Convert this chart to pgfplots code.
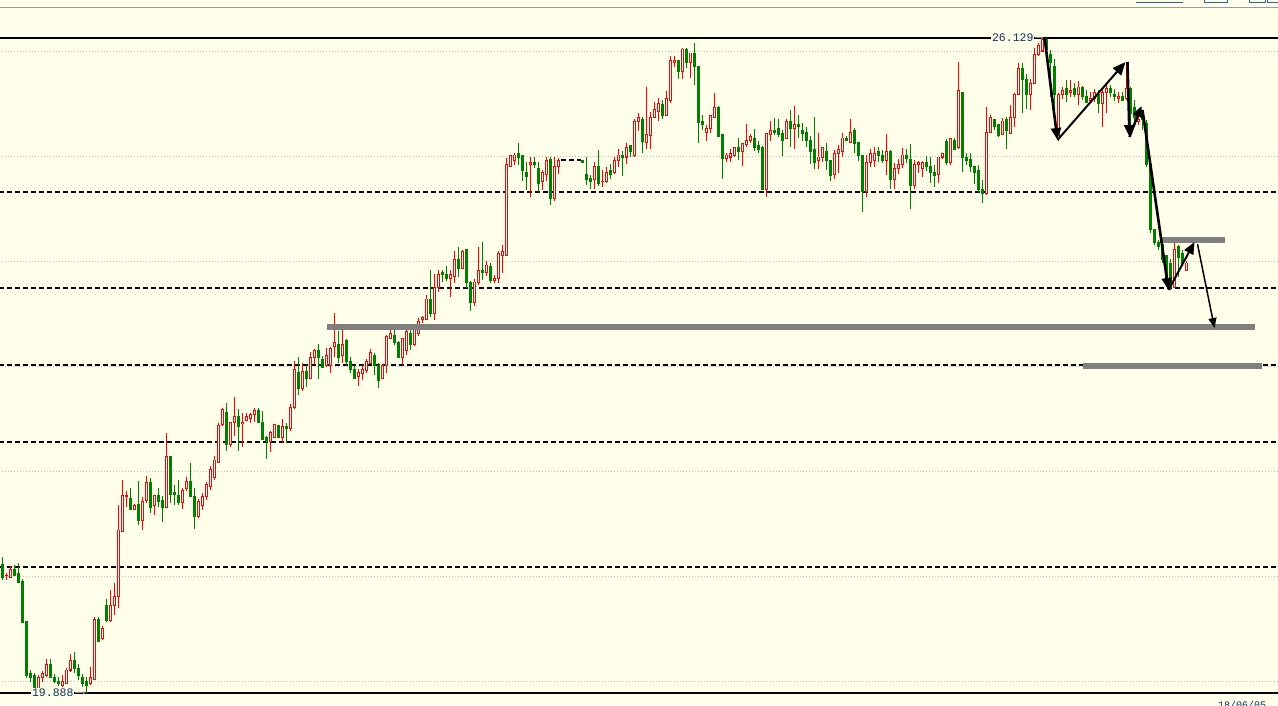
\documentclass[border=0pt]{standalone}
\usepackage{pgfplots}
\usepackage{pgfplotstable}
\pgfplotsset{compat=1.18}
\usetikzlibrary{arrows.meta}
\usepackage{fontspec}
\newfontfamily\lmono{Liberation Mono}
\definecolor{bgcol}{RGB}{255,255,234}
\definecolor{cred}{RGB}{255,0,0}
\definecolor{cgreen}{RGB}{0,128,0}
\definecolor{gridc}{RGB}{192,192,192}
\definecolor{lvl}{RGB}{128,128,128}
\definecolor{navy}{RGB}{16,48,96}
\definecolor{tbar}{RGB}{40,100,150}

% up candles: index open high low close
\pgfplotstableread{
i o h l c
1 21.003 21.031 20.965 21.012
2 20.993 21.098 20.984 21.060
9 19.907 20.059 19.898 20.040
10 20.031 20.097 19.993 20.069
11 20.050 20.212 20.040 20.155
15 19.964 20.059 19.945 20.002
16 19.983 20.126 19.974 20.107
17 20.107 20.260 20.088 20.202
22 19.974 20.136 19.964 20.031
23 20.021 20.612 20.012 20.584
25 20.403 20.527 20.393 20.498
27 20.574 20.869 20.565 20.726
28 20.726 20.936 20.631 20.812
29 20.803 21.680 20.698 21.441
30 21.431 21.918 21.431 21.765
31 21.756 21.812 21.660 21.765
33 21.641 21.689 21.641 21.670
35 21.527 21.756 21.441 21.708
36 21.718 21.956 21.699 21.889
38 21.670 21.775 21.584 21.765
41 21.660 22.366 21.660 22.137
45 21.699 21.841 21.641 21.822
46 21.832 21.946 21.812 21.899
49 21.565 21.737 21.555 21.708
50 21.670 21.794 21.632 21.756
51 21.756 21.899 21.727 21.870
52 21.851 22.051 21.822 22.013
53 21.937 22.146 21.918 22.108
54 22.080 22.461 22.080 22.432
55 22.442 22.604 22.432 22.585
57 22.251 22.470 22.232 22.461
58 22.461 22.708 22.337 22.518
60 22.451 22.556 22.232 22.461
61 22.480 22.556 22.480 22.527
62 22.499 22.556 22.461 22.537
63 22.537 22.604 22.470 22.575
67 22.280 22.385 22.184 22.366
68 22.327 22.442 22.327 22.442
70 22.327 22.499 22.270 22.423
72 22.404 22.642 22.385 22.604
73 22.604 23.051 22.594 22.966
75 22.785 23.032 22.765 22.947
77 22.880 23.137 22.880 23.089
78 23.089 23.166 23.013 23.147
81 23.004 23.175 22.994 23.108
82 23.013 23.185 22.937 23.175
83 23.185 23.508 23.089 23.223
85 23.108 23.356 23.032 23.213
89 22.899 22.975 22.813 22.937
90 22.928 23.013 22.870 22.966
91 22.956 23.070 22.937 23.051
92 23.032 23.166 23.032 23.128
95 22.880 23.023 22.880 23.013
96 23.013 23.299 22.937 23.280
97 23.270 23.347 23.261 23.309
100 23.089 23.261 23.004 23.261
101 23.156 23.366 23.108 23.328
103 23.213 23.394 23.194 23.366
104 23.309 23.461 23.290 23.423
105 23.442 23.480 23.414 23.470
106 23.451 23.680 23.442 23.642
108 23.508 23.880 23.442 23.756
109 23.756 23.918 23.709 23.871
112 23.833 23.918 23.661 23.871
113 23.852 24.099 23.795 24.023
115 23.937 24.109 23.928 24.090
118 23.604 23.833 23.575 23.804
119 23.795 24.138 23.776 23.918
121 23.899 24.004 23.861 23.966
123 23.823 23.871 23.795 23.842
124 23.833 24.099 23.795 24.080
125 24.061 24.157 23.890 24.090
126 24.061 24.986 24.061 24.919
127 24.909 25.014 24.900 25.005
128 24.957 25.033 24.919 25.014
132 24.919 24.995 24.614 24.938
135 24.766 24.871 24.681 24.843
136 24.824 24.995 24.766 24.966
138 24.595 24.995 24.576 24.909
139 24.900 24.986 24.833 24.966
148 24.776 24.947 24.690 24.909
150 24.757 24.871 24.709 24.766
151 24.766 24.900 24.747 24.852
153 24.843 24.995 24.833 24.957
154 24.957 25.071 24.900 25.014
156 24.995 25.129 24.928 25.090
158 25.014 25.357 24.995 25.329
159 25.329 25.414 25.243 25.367
161 25.129 25.662 25.071 25.214
162 25.204 25.424 25.071 25.367
163 25.376 25.519 25.367 25.452
164 25.433 25.557 25.338 25.509
166 25.395 25.624 25.395 25.548
167 25.538 25.957 25.509 25.910
168 25.891 25.957 25.853 25.910
170 25.805 26.034 25.738 26.024
172 25.900 25.986 25.748 25.986
176 25.233 25.300 25.148 25.271
177 25.262 25.395 25.223 25.386
178 25.376 25.605 25.376 25.462
181 24.976 25.033 24.947 25.014
182 24.995 25.071 24.947 25.024
183 25.014 25.090 24.995 25.081
185 25.052 25.129 24.909 25.119
186 25.110 25.309 25.090 25.148
187 25.148 25.214 25.129 25.195
191 24.681 25.223 24.614 25.223
192 25.205 25.338 25.148 25.252
196 25.167 25.357 25.167 25.329
198 25.262 25.481 25.071 25.300
204 24.957 25.223 24.881 24.995
205 24.986 25.081 24.947 25.081
208 24.824 25.062 24.786 25.033
209 25.033 25.110 24.843 25.062
210 25.052 25.223 24.995 25.176
212 25.129 25.357 25.129 25.233
216 24.671 25.014 24.614 24.947
217 24.947 25.071 24.900 25.033
218 24.966 25.090 24.900 25.033
221 24.957 25.214 24.824 25.052
223 24.776 24.938 24.690 24.890
224 24.881 24.976 24.833 24.928
225 24.919 25.081 24.890 25.014
228 24.728 24.966 24.690 24.919
229 24.919 24.957 24.843 24.947
230 24.890 24.957 24.805 24.947
234 24.824 24.995 24.747 24.995
235 24.995 25.033 24.976 25.033
237 24.938 25.176 24.919 25.167
239 25.090 25.900 25.071 25.624
246 24.643 25.471 24.633 25.233
247 25.233 25.395 25.223 25.376
250 25.214 25.367 25.204 25.338
252 25.223 25.490 25.223 25.367
253 25.376 25.605 25.281 25.586
254 25.595 25.891 25.586 25.834
257 25.595 25.738 25.443 25.700
258 25.700 26.034 25.700 25.967
259 25.967 26.081 25.957 26.053
260 26.005 26.129 26.005 26.119
264 25.167 25.605 25.148 25.586
265 25.586 25.662 25.548 25.633
267 25.605 25.729 25.567 25.633
269 25.586 25.719 25.490 25.662
272 25.529 25.614 25.509 25.557
273 25.548 25.643 25.519 25.605
275 25.509 25.633 25.281 25.614
276 25.605 25.681 25.414 25.643
279 25.548 25.614 25.509 25.567
281 25.548 25.900 25.538 25.643
284 25.329 25.395 25.300 25.348
293 23.756 24.176 23.747 24.118
296 23.909 24.004 23.909 23.985
}\upc

% down candles: index open high low close
\pgfplotstableread{
i o h l c
0 21.117 21.184 20.965 20.993
3 21.060 21.107 21.003 21.012
4 21.022 21.126 20.936 20.936
5 20.946 20.974 20.555 20.555
6 20.565 20.565 20.031 20.059
7 20.069 20.107 19.993 20.040
8 20.050 20.078 19.898 19.907
12 20.155 20.212 20.031 20.040
13 20.040 20.069 19.983 20.002
14 20.002 20.040 19.955 19.974
18 20.202 20.279 20.078 20.117
19 20.126 20.164 20.012 20.059
20 20.040 20.069 19.945 19.983
21 19.993 20.040 19.888 19.955
24 20.584 20.612 20.374 20.383
26 20.726 20.784 20.565 20.574
32 21.737 21.841 21.632 21.641
34 21.680 21.908 21.489 21.527
37 21.889 21.937 21.603 21.660
39 21.765 21.841 21.660 21.708
40 21.718 21.765 21.517 21.660
42 22.137 22.137 21.699 21.784
43 21.794 21.870 21.680 21.775
44 21.765 21.918 21.680 21.699
47 21.899 22.080 21.756 21.756
48 21.756 21.841 21.450 21.565
56 22.556 22.651 22.194 22.251
59 22.518 22.594 22.194 22.423
64 22.575 22.604 22.461 22.470
65 22.461 22.575 22.308 22.308
66 22.318 22.337 22.118 22.280
69 22.432 22.442 22.327 22.327
71 22.423 22.461 22.270 22.404
74 22.937 23.089 22.727 22.785
76 22.956 23.013 22.804 22.880
79 23.156 23.213 22.880 23.089
80 23.070 23.099 22.994 22.994
84 23.213 23.337 23.032 23.089
86 23.251 23.261 23.013 23.051
87 23.051 23.089 22.937 22.975
88 22.966 23.013 22.880 22.889
93 23.108 23.128 22.918 23.013
94 23.013 23.032 22.794 22.861
98 23.290 23.347 23.204 23.223
99 23.223 23.242 23.089 23.089
102 23.318 23.347 23.156 23.204
107 23.633 23.918 23.470 23.508
110 23.890 23.918 23.804 23.871
111 23.871 23.956 23.814 23.842
114 24.023 24.138 23.852 23.928
116 24.109 24.118 23.747 23.795
117 23.804 23.814 23.528 23.604
120 23.918 24.185 23.823 23.899
122 23.956 23.985 23.795 23.823
129 25.024 25.129 24.919 24.995
130 25.005 25.014 24.766 24.862
131 24.852 24.947 24.681 24.805
133 24.938 24.995 24.890 24.919
134 24.890 24.947 24.662 24.747
137 24.976 24.995 24.538 24.595
145 24.966 24.966 24.947 24.947
146 24.824 24.995 24.728 24.776
147 24.786 24.824 24.690 24.757
149 24.900 25.062 24.719 24.747
152 24.862 24.928 24.786 24.824
155 25.014 25.052 24.814 24.995
157 25.100 25.100 24.995 25.052
160 25.357 25.376 25.033 25.138
165 25.500 25.538 25.357 25.395
169 25.910 25.919 25.738 25.805
171 26.024 26.034 25.843 25.891
173 25.986 26.081 25.681 25.853
174 25.862 25.862 25.129 25.319
175 25.329 25.395 25.252 25.300
179 25.462 25.481 25.186 25.186
180 25.205 25.214 24.786 24.976
184 25.081 25.176 24.966 25.043
188 25.176 25.262 25.052 25.090
189 25.100 25.148 25.033 25.062
190 25.081 25.100 24.681 24.690
193 25.252 25.367 25.205 25.233
194 25.262 25.357 25.186 25.214
195 25.223 25.252 25.005 25.157
197 25.329 25.443 25.090 25.262
199 25.300 25.395 25.176 25.281
200 25.252 25.319 25.148 25.223
201 25.233 25.281 25.090 25.148
202 25.148 25.195 24.928 25.043
203 25.062 25.376 24.881 24.947
206 25.052 25.129 24.871 24.957
207 24.966 24.966 24.766 24.814
211 25.176 25.195 25.148 25.157
213 25.252 25.271 25.033 25.119
214 25.129 25.129 24.957 25.005
215 25.005 25.014 24.471 24.671
219 25.043 25.090 24.947 25.005
220 25.014 25.062 24.938 24.966
222 25.043 25.062 24.690 24.776
226 25.014 25.071 24.938 24.976
227 24.976 25.119 24.500 24.719
231 24.947 25.005 24.862 24.909
232 24.909 24.995 24.747 24.843
233 24.843 24.919 24.709 24.814
236 25.138 25.167 24.919 24.938
238 25.157 25.176 25.062 25.071
240 25.614 25.614 24.852 24.986
241 24.995 25.033 24.919 24.957
242 24.976 25.033 24.852 24.900
243 24.900 24.909 24.738 24.843
244 24.862 24.919 24.652 24.690
245 24.690 24.776 24.557 24.652
248 25.348 25.357 25.252 25.281
249 25.300 25.309 25.186 25.204
251 25.348 25.376 25.071 25.243
255 25.834 25.891 25.414 25.738
256 25.738 25.786 25.452 25.595
261 26.110 26.119 26.005 26.015
262 25.976 26.015 25.567 25.891
263 25.862 25.929 25.443 25.586
266 25.652 25.729 25.519 25.595
268 25.652 25.700 25.567 25.586
270 25.662 25.672 25.538 25.567
271 25.567 25.633 25.509 25.519
274 25.586 25.633 25.414 25.509
277 25.643 25.681 25.567 25.605
278 25.586 25.643 25.529 25.567
280 25.567 25.614 25.529 25.538
282 25.643 25.662 25.223 25.414
283 25.471 25.538 25.281 25.376
285 25.386 25.443 25.252 25.348
286 25.319 25.348 24.900 24.919
287 24.919 24.947 24.271 24.300
288 24.300 24.309 24.157 24.176
289 24.176 24.204 24.109 24.138
290 24.157 24.176 23.985 24.014
291 24.061 24.061 23.756 23.795
292 23.985 24.023 23.728 23.756
294 24.138 24.157 23.852 24.042
295 24.080 24.109 23.966 23.985
}\downc

\pgfplotsset{
  candlebar/.style={only marks, mark=*, mark size=0.01pt,
    mark options={draw opacity=0, fill opacity=0}, forget plot,
    error bars/.cd, y dir=plus, y explicit, error mark=none,
    error bar style={line cap=butt, draw opacity=1, #1}},
}

\begin{document}
\begin{tikzpicture}
\fill[bgcol] (0pt,0pt) rectangle (1278pt,705pt);
\begin{axis}[
  at={(0pt,0pt)}, anchor=south west,
  scale only axis, width=1278pt, height=705pt,
  xmin=-0.625, xmax=318.875, ymin=19.7735, ymax=26.491,
  hide axis, clip=true,
]
% window border line
\draw[gridc!80!black, line width=1pt] (axis cs:-1,26.415) -- (axis cs:320,26.415);
% dotted price grid
\foreach \g in {20,21,22,23,24,25,26}{
  \edef\tmp{\noexpand\draw[gridc, line width=1pt, dash pattern=on 1.5pt off 1.5pt] (axis cs:-1,\g) -- (axis cs:320,\g);}\tmp
}
% dashed retracement levels
\foreach \v in {24.662,23.747,23.013,22.279,21.088}{
  \edef\tmp{\noexpand\draw[black, line width=1.5pt, dash pattern=on 5pt off 3pt] (axis cs:-1,\v) -- (axis cs:320,\v);}\tmp
}
\draw[black, line width=1.5pt, dash pattern=on 5pt off 3pt] (axis cs:139.75,24.966) -- (axis cs:144.75,24.966);
% high / low lines
\draw[black, line width=1.3pt] (axis cs:-1,26.129) -- (axis cs:320,26.129);
\draw[black, line width=1.3pt] (axis cs:-1,19.888) -- (axis cs:320,19.888);

% wicks
\addplot[candlebar={color=cgreen, line width=1pt}] table[x=i, y=l, y error plus expr=\thisrow{h}-\thisrow{l}] {\downc};
\addplot[candlebar={color=cred, line width=1pt}] table[x=i, y=l, y error plus expr=\thisrow{h}-\thisrow{l}] {\upc};
% down bodies (filled green)
\addplot[candlebar={color=cgreen, line width=3pt}] table[x=i, y expr=\thisrow{c}-0.0048, y error plus expr=\thisrow{o}-\thisrow{c}+0.0095] {\downc};
% up bodies (hollow red)
\addplot[candlebar={color=cred, line width=3pt}] table[x=i, y expr=\thisrow{o}-0.0048, y error plus expr=\thisrow{c}-\thisrow{o}+0.0095] {\upc};
\addplot[candlebar={color=bgcol, line width=1pt}] table[x=i, y expr=\thisrow{o}+0.0048, y error plus expr={max(\thisrow{c}-\thisrow{o}-0.0095,0)}] {\upc};

% grey horizontal levels
\draw[lvl, line width=5.5pt] (axis cs:81.25,23.375) -- (axis cs:313.25,23.375);
\draw[lvl, line width=5.5pt] (axis cs:270.25,23.004) -- (axis cs:315,23.004);
\draw[lvl, line width=5.5pt] (axis cs:289.5,24.204) -- (axis cs:305.75,24.204);

% arrows
\draw[black, line width=2.6pt, -{Triangle[length=12pt,width=10pt]}] (axis cs:260.5,26.138) -- (axis cs:263.75,25.157);
\draw[black, line width=2pt, -{Triangle[length=13pt,width=11pt]}] (axis cs:263.75,25.157) -- (axis cs:280.75,25.900);
\draw[black, line width=2.6pt, -{Triangle[length=12pt,width=10pt]}] (axis cs:281.25,25.900) -- (axis cs:281.75,25.186);
\draw[black, line width=2.4pt, -{Triangle[length=11pt,width=10pt]}] (axis cs:281.75,25.186) -- (axis cs:284.75,25.481);
\draw[black, line width=2.6pt, -{Triangle[length=12pt,width=10pt]}] (axis cs:285,25.443) -- (axis cs:291.5,23.728);
\draw[black, line width=2pt, -{Triangle[length=12pt,width=10pt]}] (axis cs:291.5,23.728) -- (axis cs:298,24.185);
\draw[black, line width=1.5pt, -{Triangle[length=10pt,width=8pt]}] (axis cs:298.75,24.166) -- (axis cs:303,23.366);

% price labels
\node[anchor=east, inner sep=0.8pt, fill=bgcol, text=navy, font=\lmono\fontsize{11.5}{12}\selectfont] at (axis cs:258,26.129) {26.129};
\draw[gray, line width=1pt, -{Stealth[length=3pt,width=3pt]}] (axis cs:258.2,26.129) -- (axis cs:260.3,26.129);
\node[anchor=east, inner sep=0.8pt, fill=bgcol, text=navy, font=\lmono\fontsize{11.5}{12}\selectfont] at (axis cs:18,19.888) {19.888};
\draw[gray, line width=1pt, -{Stealth[length=3pt,width=3pt]}] (axis cs:18.2,19.888) -- (axis cs:20.8,19.888);
\end{axis}
% toolbar fragments at the top right
\draw[tbar, line width=1pt] (1136pt,702pt) -- (1183pt,702pt);
\draw[tbar, line width=1pt] (1204pt,702pt) -- (1227pt,702pt) (1204pt,702pt) -- (1204pt,705pt) (1227pt,702pt) -- (1227pt,705pt);
\draw[tbar, line width=1pt] (1249pt,702pt) -- (1265pt,702pt) (1249pt,702pt) -- (1249pt,705pt) (1265pt,702pt) -- (1265pt,705pt);
\draw[tbar, line width=1pt] (1267pt,702pt) -- (1278pt,702pt) (1267pt,702pt) -- (1267pt,705pt);
\node[anchor=north west, inner sep=0pt, text=navy, font=\lmono\fontsize{10}{10}\selectfont] at (1218pt,3.5pt) {18/06/05};
\pgfresetboundingbox
\useasboundingbox (0pt,0pt) rectangle (1278pt,705pt);
\end{tikzpicture}
\end{document}
